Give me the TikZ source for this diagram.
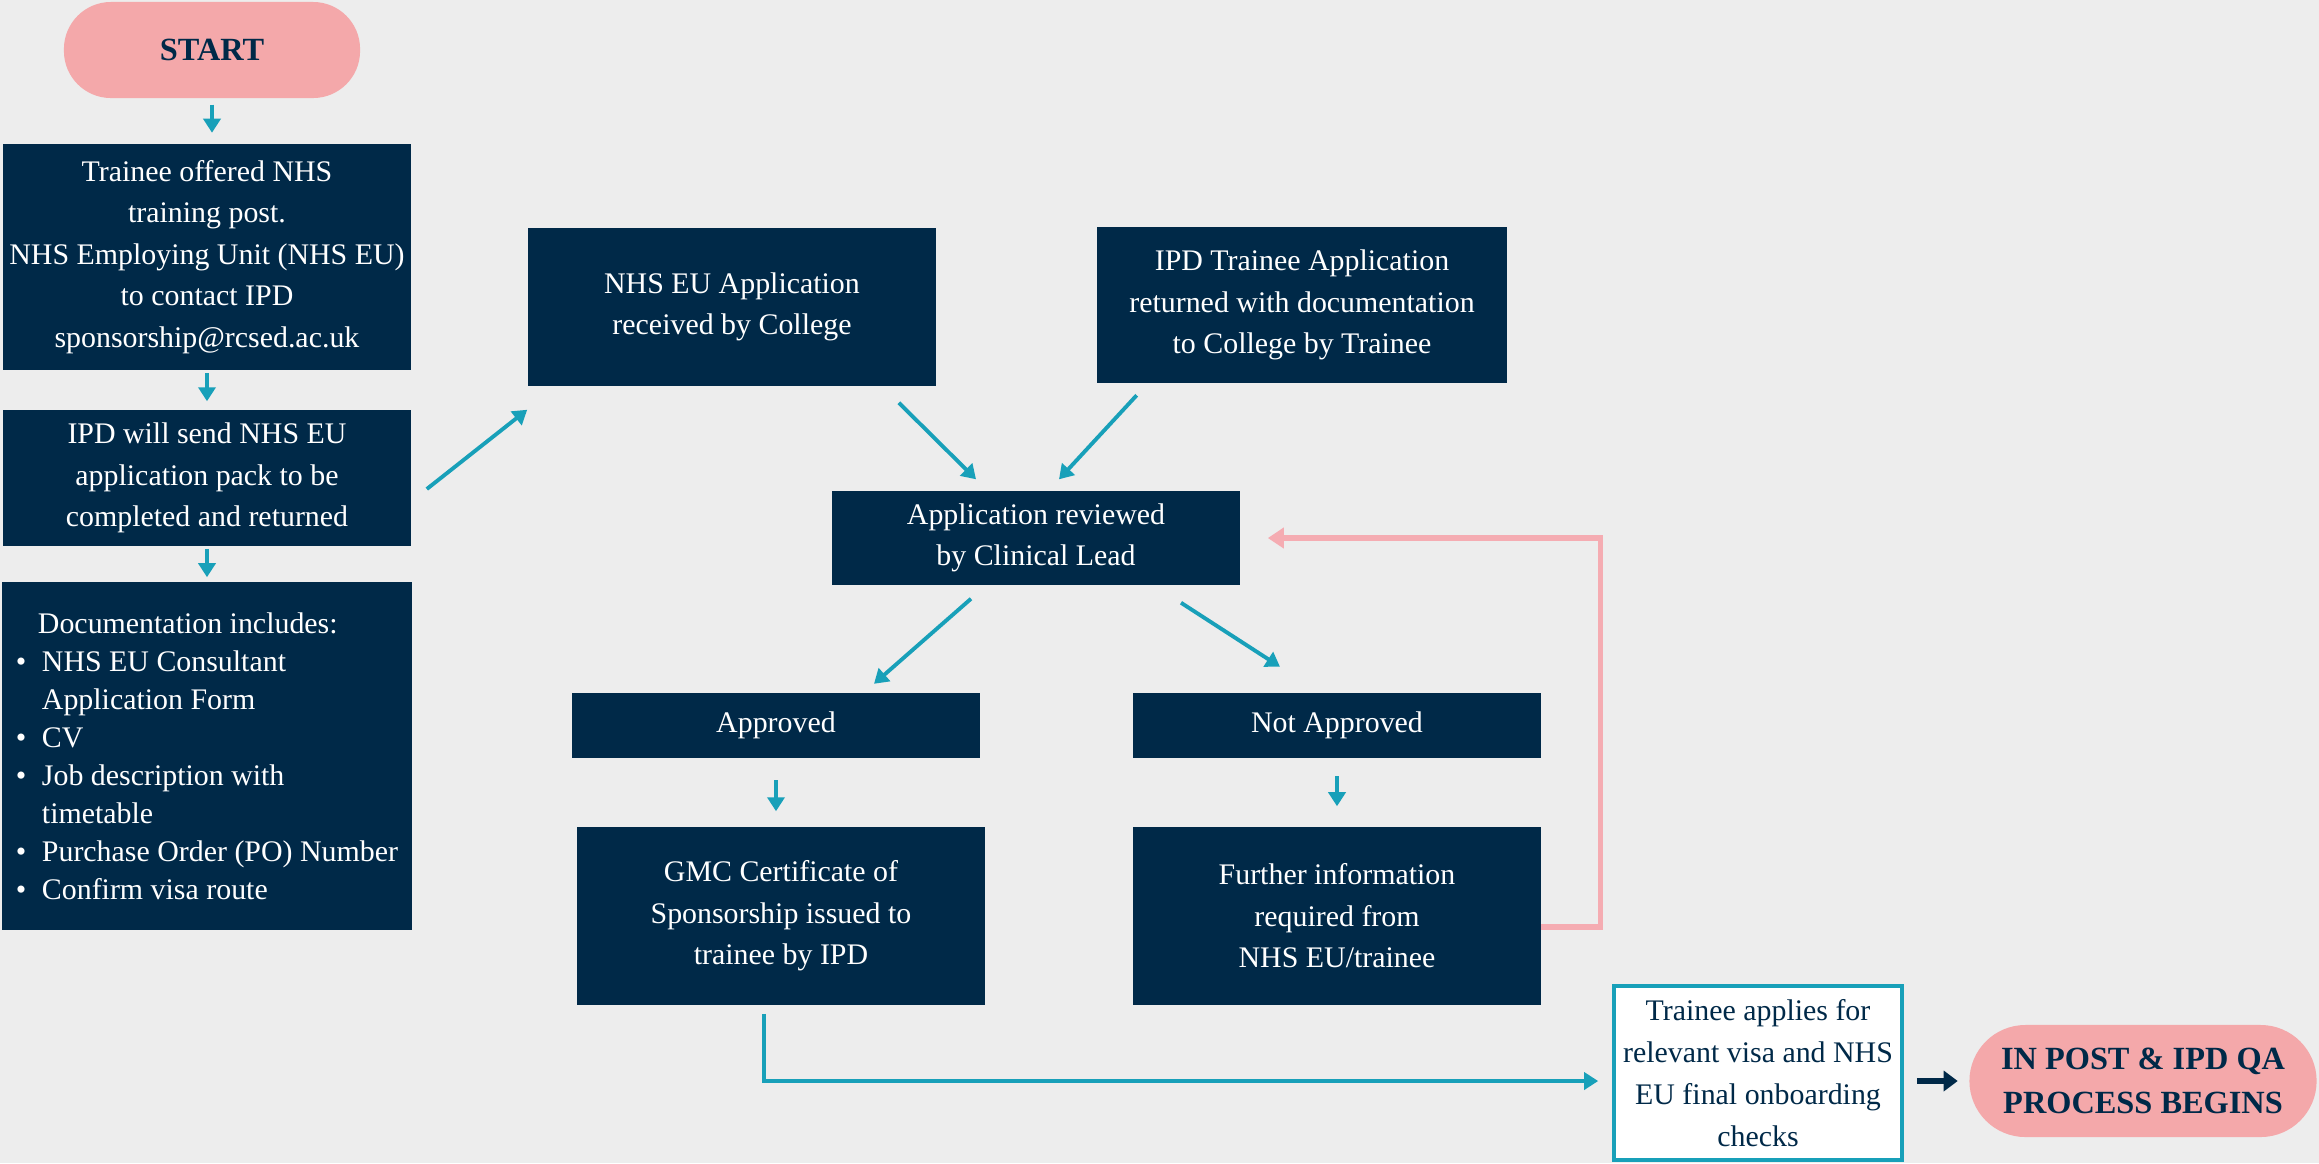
\documentclass[tikz,border=0pt]{standalone}
\usepackage{fontspec}
\setmainfont{Liberation Serif}
\usetikzlibrary{arrows.meta}

\definecolor{bggrey}{RGB}{237,237,237}
\definecolor{navy}{RGB}{0,41,72}
\definecolor{pinkfill}{RGB}{244,168,170}
\definecolor{pinkline}{RGB}{245,172,178}
\definecolor{tealc}{RGB}{24,160,185}

\newcommand{\docbullet}{\makebox[0.26cm][l]{\textbullet}}
\newcommand{\docindent}{\hspace*{0.26cm}}

\begin{document}
\begin{tikzpicture}[x=0.01cm, y=-0.01cm,
    darkbox/.style={fill=navy, text=white, align=center, inner sep=1pt,
        minimum width=4.08cm, font=\fontsize{8.5}{11.8}\selectfont},
    pill/.style={fill=pinkfill, text=navy, align=center, inner sep=1pt,
        font=\bfseries\fontsize{9.2}{12.6}\selectfont},
    tarrow/.style={draw=tealc, line width=1.1pt, -{Triangle[length=0.14cm,width=0.17cm]}},
    parrow/.style={draw=pinkline, line width=1.5pt, -{Triangle[length=0.16cm,width=0.2cm]}},
    narrow/.style={draw=navy, line width=1.8pt, -{Triangle[length=0.14cm,width=0.2cm]}}]

    % Background
    \fill[bggrey] (0,0) rectangle (2319,1163);
    \useasboundingbox (0,0) rectangle (2319,1163);

    % Left column
    \node[pill, minimum width=2.96cm, minimum height=0.96cm, rounded corners=0.47cm] (start) at (212,50) {START};
    \node[darkbox, minimum height=2.25cm] (offer) at (207,257) {Trainee offered NHS\\ training post.\\ NHS Employing Unit (NHS EU)\\ to contact IPD\\ sponsorship@rcsed.ac.uk};
    \node[darkbox, minimum height=1.36cm] (pack) at (207,478) {IPD will send NHS EU\\ application pack to be\\ completed and returned};
    \node[darkbox, minimum width=4.09cm, minimum height=3.48cm, align=left,
        font=\fontsize{8.5}{10.8}\selectfont] (docs) at (207,756) {\hspace*{0.22cm}Documentation includes:\\
        \docbullet NHS EU Consultant\\
        \docindent Application Form\\
        \docbullet CV\\
        \docbullet Job description with\\
        \docindent timetable\\
        \docbullet Purchase Order (PO) Number\\
        \docbullet Confirm visa route};

    % Applications
    \node[darkbox, minimum height=1.58cm] (received) at (732,307) {NHS EU Application\\ received by College};
    \node[darkbox, minimum width=4.09cm, minimum height=1.55cm] (returned) at (1302,305) {IPD Trainee Application\\ returned with documentation\\ to College by Trainee};
    \node[darkbox, minimum height=0.94cm] (review) at (1036,538) {Application reviewed\\ by Clinical Lead};

    % Outcomes
    \node[darkbox, minimum height=0.65cm] (approved) at (776,725) {Approved};
    \node[darkbox, minimum width=4.07cm, minimum height=0.65cm] (notapp) at (1337,725) {Not Approved};
    \node[darkbox, minimum height=1.78cm] (gmc) at (781,916) {GMC Certificate of\\ Sponsorship issued to\\ trainee by IPD};
    \node[darkbox, minimum width=4.07cm, minimum height=1.78cm] (further) at (1337,916) {Further information\\ required from\\ NHS EU/trainee};

    % End
    \node[fill=white, draw=tealc, line width=1pt, text=navy, align=center, inner sep=1pt,
        minimum width=2.88cm, minimum height=1.74cm, font=\fontsize{8.5}{11.9}\selectfont] (visa) at (1758,1073) {Trainee applies for\\ relevant visa and NHS\\ EU final onboarding\\ checks};
    \node[pill, minimum width=3.47cm, minimum height=1.12cm, rounded corners=0.56cm] (inpost) at (2143,1081) {IN POST \& IPD QA\\ PROCESS BEGINS};

    % Arrows
    \draw[tarrow, shorten <=0.06cm, shorten >=0.11cm] (start.south) -- (start.south |- offer.north);
    \draw[tarrow, shorten <=0.03cm, shorten >=0.08cm] (offer.south) -- (pack.north);
    \draw[tarrow, shorten <=0.02cm, shorten >=0.04cm] (pack.south) -- (docs.north);
    \draw[tarrow] ([shift={(15,11)}]pack.east) -- ([shift={(0,23)}]received.south west);
    \draw[tarrow] ([shift={(-38,16)}]received.south east) -- ([shift={(-60,-11)}]review.north);
    \draw[tarrow] ([shift={(40,12)}]returned.south west) -- ([shift={(23,-11)}]review.north);
    \draw[tarrow] ([shift={(-65,13)}]review.south) -- ([shift={(98,-8)}]approved.north);
    \draw[tarrow] ([shift={(145,17)}]review.south) -- ([shift={(-57,-25)}]notapp.north);
    \draw[tarrow, shorten <=0.22cm, shorten >=0.15cm] (approved.south) -- (approved.south |- gmc.north);
    \draw[tarrow, shorten <=0.18cm, shorten >=0.2cm] (notapp.south) -- (notapp.south |- further.north);

    % Loop back
    \draw[parrow] ([shift={(0,11)}]further.east) -- ++(59,0) |- ([shift={(27,0)}]review.east);

    % To visa and in post
    \draw[tarrow] ([shift={(-17,8)}]gmc.south) |- ([shift={(-14,8)}]visa.west);
    \draw[narrow, shorten <=0.13cm, shorten >=0.11cm] (inpost.west -| visa.east) -- (inpost.west);
\end{tikzpicture}
\end{document}
